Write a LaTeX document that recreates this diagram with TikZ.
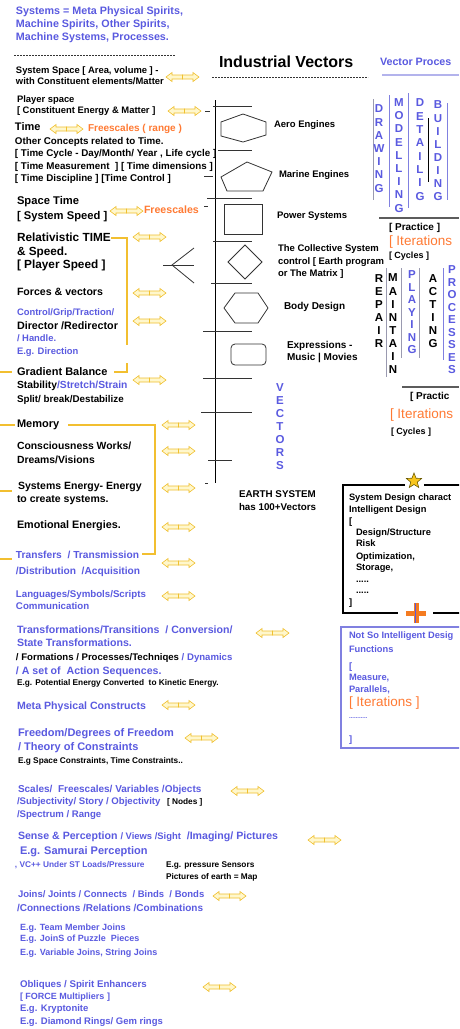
\documentclass[tikz,border=0pt]{standalone}
\usepackage{fontspec}
\setmainfont{Liberation Sans}
\usetikzlibrary{shapes.geometric}
\definecolor{vblue}{HTML}{5A5AE0}
\definecolor{vorange}{HTML}{FF7A33}
\definecolor{ybar}{HTML}{F2BF30}
\definecolor{afill}{HTML}{FFF7CC}
\definecolor{aedge}{HTML}{F0C030}
\definecolor{rulegray}{HTML}{333333}
\definecolor{sepblue}{HTML}{8080E0}
\definecolor{sepgray}{HTML}{9A9AB0}
\definecolor{starfill}{HTML}{F8C51C}
\definecolor{stardark}{HTML}{6B5A00}
\definecolor{plusorange}{HTML}{F47B20}
\newcommand\fsz[1]{\fontsize{#1}{#1}\selectfont}
% vertical word: [colour]{name}{x}{first y}{step}{letters}
\newcommand\vword[6][vblue]{%
  \foreach \ltr [count=\i] in {#6}{%
    \node[vlet, text=#1] (#2\i) at (#3,{#4+(\i-1)*#5}) {\ltr};}}
\tikzset{
  tx/.style={anchor=mid west, inner sep=0pt, outer sep=0pt},
  sz/.style={font=\fsz{#1}\bfseries},
  rg/.style={font=\fsz{#1}},
  blu/.style={text=vblue},
  org/.style={text=vorange},
  vlet/.style={inner sep=0pt, font=\fsz{11.5}\bfseries},
  ybr/.style={draw=ybar, line width=1.1pt},
  rung/.style={draw=rulegray, line width=0.9pt},
  shp/.style={draw=rulegray, line width=0.8pt},
  sep/.style={draw=sepblue, line width=0.9pt},
  sepg/.style={draw=sepgray, line width=0.9pt},
  fine/.style={draw=rulegray, line width=0.6pt, dash pattern=on 2.2pt off 0.8pt},
  arrowshape/.style={draw=aedge, fill=afill, line width=0.6pt},
  dblarrow/.pic={
    \path[arrowshape] (0,0) -- (6,-4.5) -- (6,-2) -- (16.5,-2) -- (16.5,2) -- (6,2) -- (6,4.5) -- cycle;
    \path[arrowshape] (33,0) -- (27,-4.5) -- (27,-2) -- (16.5,-2) -- (16.5,2) -- (27,2) -- (27,4.5) -- cycle;
  }
}
\begin{document}
\begin{tikzpicture}[x=1pt,y=-1pt]
\useasboundingbox (0,0) rectangle (459,1029);
\fill[white] (0,0) rectangle (459,1029);
\clip (0,0) rectangle (459,1029);

% ---------- heading block ----------
\node[tx,sz=10.75,blu] (sys1) at (16,12) {Systems = Meta Physical Spirits,};
\node[tx,sz=10.75,blu] (sys2) at (16,25) {Machine Spirits, Other Spirits,};
\node[tx,sz=10.75,blu] (sys3) at (16,38) {Machine Systems, Processes.};
\draw[fine] (14,55) -- (175,55);

\node[tx,sz=16] (title) at (219,65) {Industrial Vectors};
\draw[fine] (212,77) -- (368,77);
\node[tx,sz=10.7,blu] (vproc) at (380,63) {Vector Proces};
\draw[draw=sepblue!60, line width=1.6pt] (382,75) -- (459,75);

% ---------- left column ----------
\node[tx,sz=9.4] (ss1) at (16,71) {System Space [ Area, volume ] -};
\node[tx,sz=9.4] (ss2) at (16,82) {with Constituent elements/Matter};
\pic at (166,77) {dblarrow};

\node[tx,sz=9.4] (ps1) at (17,100) {Player space};
\node[tx,sz=9.4] (ps2) at (17,111) {[ Constituent Energy \& Matter ]};
\pic at (168,111) {dblarrow};

\node[tx,sz=11] (time) at (15,128) {Time};
\pic at (50,129) {dblarrow};
\node[tx,sz=10,org] (fr1) at (88,129) {Freescales ( range )};
\node[tx,sz=9.8] (oc1) at (15,142) {Other Concepts related to Time.};
\node[tx,sz=9.8] (oc2) at (15,154) {[ Time Cycle - Day/Month/ Year , Life cycle ]};
\node[tx,sz=9.8] (oc3) at (15,167) {[ Time Measurement \ ] [ Time dimensions ]};
\node[tx,sz=9.8] (oc4) at (15,179) {[ Time Discipline ] [Time Control ]};

\node[tx,sz=11.2] (st1) at (17,202) {Space Time};
\node[tx,sz=11.2] (st2) at (17,217) {[ System Speed ]};
\pic at (110,211) {dblarrow};
\node[tx,sz=10.6,org] (fr2) at (144,211) {Freescales};

\node[tx,sz=11.8] (rt1) at (17,239) {Relativistic TIME};
\node[tx,sz=11.8] (rt2) at (17,253) {\& Speed.};
\node[tx,sz=11.8] (rt3) at (17,266) {[ Player Speed ]};
\pic at (133,237) {dblarrow};

\node[tx,sz=10.6] (fv) at (17,293) {Forces \& vectors};
\pic at (133,293) {dblarrow};
\node[tx,sz=9.4,blu] (cg) at (17,313) {Control/Grip/Traction/};
\node[tx,sz=10.75] (dr) at (17,327) {Director /Redirector};
\node[tx,sz=9.4,blu] (hd) at (17,339) {/ Handle.};
\node[tx,sz=9.4,blu] (egd) at (17,352) {E.g. Direction};
\pic at (133,321) {dblarrow};

\node[tx,sz=11] (gb) at (17,373) {Gradient Balance};
\node[tx,sz=10.3] (stab) at (17,386) {Stability\textcolor{vblue}{/Stretch/Strain}};
\node[tx,sz=9.8] (spl) at (17,400) {Split/ break/Destabilize};
\pic at (133,380) {dblarrow};

% bracket from Relativistic TIME down to Gradient Balance
\draw[ybr] (111,238) -- (127,238) -- (127,345);
\draw[ybr] (127,363) -- (127,372) -- (114,372);
\draw[ybr] (0,372) -- (12,372);

\node[tx,sz=11] (mem) at (17,425) {Memory};
\draw[ybr] (0,425) -- (15,425);
\draw[ybr] (68,425) -- (155,425) -- (155,554) -- (142,554);
\node[tx,sz=10.4] (cw1) at (17,447) {Consciousness Works/};
\node[tx,sz=10.4] (cw2) at (17,461) {Dreams/Visions};
\node[tx,sz=10.5] (se1) at (18,487) {Systems Energy- Energy};
\node[tx,sz=10.5] (se2) at (17,500) {to create systems.};
\draw[ybr] (0,491) -- (12,491);
\node[tx,sz=10.8] (emo) at (17,526) {Emotional Energies.};
\node[tx,sz=10.2,blu] (tr1) at (16,556) {Transfers \ / Transmission};
\node[tx,sz=10.2,blu] (tr2) at (16,572) {/Distribution \ /Acquisition};
\draw[ybr] (0,559) -- (12,559);
\foreach \yy in {425,451,488,527,563} \pic at (162,\yy) {dblarrow};

\node[tx,sz=9.7,blu] (lang1) at (16,595) {Languages/Symbols/Scripts};
\node[tx,sz=9.7,blu] (lang2) at (16,607) {Communication};
\pic at (162,596) {dblarrow};
\node[tx,sz=10.6,blu] (tf1) at (17,631) {Transformations/Transitions \ / Conversion/};
\node[tx,sz=10.6,blu] (tf2) at (17,644) {State Transformations.};
\pic at (256,633) {dblarrow};
\node[tx,sz=9.6] (tf3) at (16,658) {/ Formations / Processes/Techniqes \textcolor{vblue}{/ Dynamics}};
\node[tx,sz=10.6,blu] (tf4) at (16,672) {/ A set of \ Action Sequences.};
\node[tx,sz=8.3] (tf5) at (17,683) {E.g. Potential Energy Converted \ to Kinetic Energy.};
\node[tx,sz=10.6,blu] (mpc) at (17,707) {Meta Physical Constructs};
\pic at (162,705) {dblarrow};
\node[tx,sz=11,blu] (fd1) at (18,734) {Freedom/Degrees of Freedom};
\node[tx,sz=11,blu] (fd2) at (18,748) {/ Theory of Constraints};
\node[tx,sz=8.3] (fd3) at (18,761) {E.g Space Constraints, Time Constraints..};
\pic at (185,738) {dblarrow};

\node[tx,sz=10,blu] (sc1) at (18,790) {Scales/ \ Freescales/ Variables /Objects};
\node[tx,sz=9.6,blu] (sc2) at (17,802) {/Subjectivity/ Story / Objectivity};
\node[tx,sz=8.3] (nodes) at (167,802) {[ Nodes ]};
\node[tx,sz=9.6,blu] (sc3) at (17,815) {/Spectrum / Range};
\pic at (231,791) {dblarrow};
\node[tx,sz=10.6,blu] (sp1) at (18,837) {Sense \& Perception {\fsz{9.4}/ Views /Sight} \ /Imaging/ Pictures};
\pic at (308,840) {dblarrow};
\node[tx,sz=11,blu] (sp2) at (20,852) {E.g. Samurai Perception};
\node[tx,sz=8.3,blu] (sp3) at (15,865) {, VC++ Under ST Loads/Pressure};
\node[tx,sz=8.3] (sp4) at (166,865) {E.g. pressure Sensors};
\node[tx,sz=8.3] (sp5) at (166,877) {Pictures of earth = Map};
\node[tx,sz=9.5,blu] (jn1) at (18,895) {Joins/ Joints / Connects \ / Binds \ / Bonds};
\pic at (213,896) {dblarrow};
\node[tx,sz=10,blu] (jn2) at (17,909) {/Connections /Relations /Combinations};
\node[tx,sz=9,blu] (jn3) at (20,928) {E.g. Team Member Joins};
\node[tx,sz=9,blu] (jn4) at (20,939) {E.g. JoinS of Puzzle \ Pieces};
\node[tx,sz=9,blu] (jn5) at (20,953) {E.g. Variable Joins, String Joins};
\node[tx,sz=9.7,blu] (ob1) at (20,985) {Obliques / Spirit Enhancers};
\node[tx,sz=9,blu] (ob2) at (20,997) {[ FORCE Multipliers ]};
\node[tx,sz=9.5,blu] (ob3) at (20,1009) {E.g. Kryptonite};
\node[tx,sz=9.5,blu] (ob4) at (20,1022) {E.g. Diamond Rings/ Gem rings};
\pic at (203,987) {dblarrow};

% ---------- vector spine ----------
\draw[draw=black, line width=1pt] (215,100) -- (215,483);
\foreach \ya/\xa/\xb in {106/213/252,150/218/252,198/207/252,241/213/252,283/211/252,331/203/252,378/203/252,412/201/252,460/208/232}
  \draw[rung] (\xa,\ya) -- (\xb,\ya);
\foreach \ya/\xa/\xb in {111/205/210,176/204/213,206/204/208,483/205/208}
  \draw[rung] (\xa,\ya) -- (\xb,\ya);
% fork
\draw[shp] (163,265) -- (194,265);
\draw[shp] (194,248) -- (172,265) -- (194,283);

% vector symbols
\draw[shp] (243,114) -- (266,122) -- (266,135) -- (243,142) -- (221,136) -- (221,122) -- cycle;
\node[tx,sz=9.5] (aero) at (274,125) {Aero Engines};
\draw[shp] (247,162) -- (272,172) -- (263,191) -- (227,191) -- (221,177) -- cycle;
\node[tx,sz=9.5] (marine) at (279,175) {Marine Engines};
\draw[shp] (224,204) rectangle (262,234);
\node[tx,sz=9.5] (power) at (277,216) {Power Systems};
\draw[shp] (245,245) -- (262,262) -- (245,279) -- (228,262) -- cycle;
\node[tx,sz=9.5] (coll1) at (278,249) {The Collective System};
\node[tx,sz=9.5] (coll2) at (278,262) {control [ Earth program};
\node[tx,sz=9.5] (coll3) at (278,274) {or The Matrix ]};
\draw[shp] (224,308) -- (235,293) -- (258,293) -- (268,308) -- (258,323) -- (235,323) -- cycle;
\node[tx,sz=10] (body) at (284,307) {Body Design};
\draw[shp, rounded corners=4pt] (231,344) rectangle (266,365);
\node[tx,sz=10] (expr1) at (287,346) {Expressions -};
\node[tx,sz=10] (expr2) at (287,358) {Music | Movies};

\vword{vec}{280}{388}{13}{V,E,C,T,O,R,S}
\node[tx,sz=9.8] (earth1) at (239,495) {EARTH SYSTEM};
\node[tx,sz=9.8] (earth2) at (239,508) {has 100+Vectors};

% ---------- process columns ----------
\draw[sepg] (373,99) -- (373,200);
\vword{drw}{379}{109}{13.2}{D,R,A,W,I,N,G}
\draw[sep] (389,95) -- (389,207);
\vword{mdl}{399}{102.5}{13.2}{M,O,D,E,L,L,I,N,G}
\draw[sep] (408,93) -- (408,208);
\vword{dtl}{420}{103}{13.3}{D,E,T,A,I,L,I,G}
\draw[draw=black, line width=0.9pt] (428,118) -- (428,182);
\vword{bld}{438}{105}{13.1}{B,U,I,L,D,I,N,G}
\draw[sep] (447,103) -- (447,200);
\draw[draw=rulegray!80, line width=1.3pt] (379,218) -- (459,218);
\node[tx,sz=10] (prac1) at (389,228) {[ Practice ]};
\node[tx,rg=13.5,org] (iter1) at (389,243) {[ Iterations};
\node[tx,sz=9] (cyc1) at (389,256) {[ Cycles ]};

\vword[black]{rep}{379}{279}{13}{R,E,P,A,I,R}
\draw[sepg] (386,268) -- (386,377);
\vword[black]{mnt}{393}{278}{13.1}{M,A,I,N,T,A,I,N}
\draw[sepg] (401,268) -- (401,358);
\vword{ply}{412}{275}{12.5}{P,L,A,Y,I,N,G}
\draw[sepg] (419,268) -- (419,358);
\vword[black]{act}{433}{279}{13}{A,C,T,I,N,G}
\draw[sep] (443,268) -- (443,360);
\vword{prc}{452}{270}{12.5}{P,R,O,C,E,S,S,E,S}
\draw[draw=rulegray!80, line width=1.3pt] (402,387) -- (459,387);
\node[tx,sz=10] (prac2) at (410,397) {[ Practic};
\node[tx,rg=13.5,org] (iter2) at (390,416) {[ Iterations};
\node[tx,sz=9] (cyc2) at (391,432) {[ Cycles ]};

% ---------- design boxes ----------
\draw[draw=black, line width=1.1pt] (405,485) -- (343,485) -- (343,613) -- (398,613);
\draw[draw=black, line width=1.1pt] (424,485) -- (460,485);
\draw[draw=black, line width=1.1pt] (433,613) -- (460,613);
\node[star, star points=5, star point ratio=2.3, minimum size=16pt, inner sep=0pt,
      fill=starfill, draw=stardark, line width=0.6pt] (star) at (414,481) {};
\node[tx,sz=9.3] (sd1) at (349,498) {System Design charact};
\node[tx,sz=9.3] (sd2) at (349,510) {Intelligent Design};
\node[tx,sz=9.3] (sd3) at (349,522) {[};
\node[tx,sz=9.3] (sd4) at (356,533) {Design/Structure};
\node[tx,sz=9.3] (sd5) at (356,544) {Risk};
\node[tx,sz=9.3] (sd6) at (356,557) {Optimization,};
\node[tx,sz=9.3] (sd7) at (356,568) {Storage,};
\node[tx,sz=9.3] (sd8) at (356,580) {.....};
\node[tx,sz=9.3] (sd9) at (356,591) {.....};
\node[tx,sz=9.3] (sd10) at (349,603) {]};

\fill[plusorange] (406,610.5) rectangle (426,615.5);
\fill[plusorange] (413.5,603) rectangle (418.5,623);
\draw[draw=vblue, line width=0.8pt] (415,603) -- (415,623);

\draw[draw=sepblue, line width=1.1pt] (460,627) -- (341,627) -- (341,748) -- (460,748);
\node[tx,sz=9.3,blu] (ns1) at (349,636) {Not So Intelligent Desig};
\node[tx,sz=9.3,blu] (ns2) at (349,650) {Functions};
\node[tx,sz=9.3,blu] (ns3) at (349,667) {[};
\node[tx,sz=9.3,blu] (ns4) at (349,678) {Measure,};
\node[tx,sz=9.3,blu] (ns5) at (349,690) {Parallels,};
\node[tx,rg=13.5,org] (ns6) at (349,704) {[ Iterations ]};
\node[tx,sz=6,blu] (ns7) at (349,716) {...........};
\node[tx,sz=9.3,blu] (ns8) at (349,740) {]};
\end{tikzpicture}
\end{document}
